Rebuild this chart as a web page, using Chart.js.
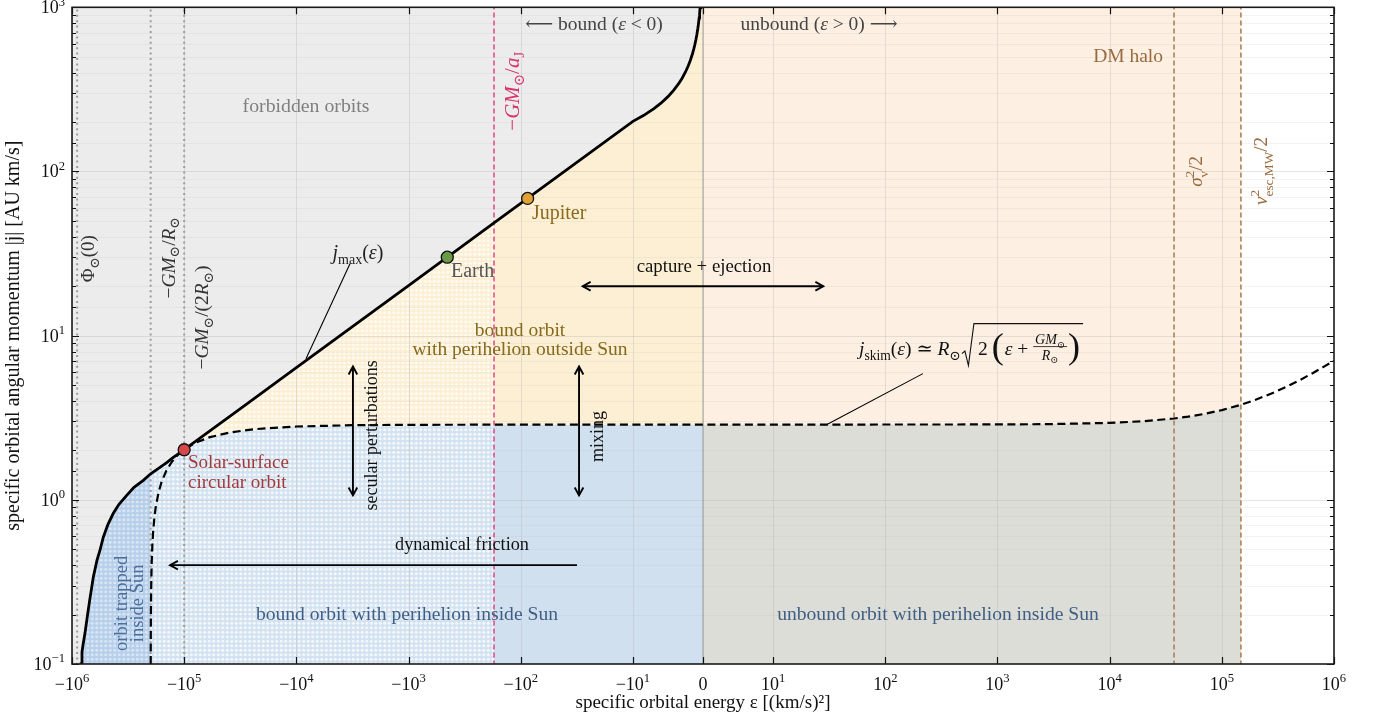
<!DOCTYPE html>
<html><head><meta charset="utf-8"><title>orbit classification</title>
<script src="https://cdn.jsdelivr.net/npm/chart.js@4.4.1/dist/chart.umd.min.js"></script>
<style>html,body{margin:0;padding:0;background:#fff;overflow:hidden}canvas{display:block}</style>
</head><body>
<canvas id="chart" width="1380" height="719"></canvas>
<script>
// ================= DATA =================
const X_TICKS = [-1e6, -1e5, -1e4, -1e3, -1e2, -1e1, 0, 1e1, 1e2, 1e3, 1e4, 1e5, 1e6];
const X_TICK_LABELS = ['−10^6', '−10^5', '−10^4', '−10^3', '−10^2', '−10^1', '0', '10^1', '10^2', '10^3', '10^4', '10^5', '10^6'];
const Y_MAJOR = [0.1, 1, 10, 100, 1000];
const Y_MAJOR_LABELS = ['10^−1', '10^0', '10^1', '10^2', '10^3'];

// j_max(eps): maximum (circular-orbit) angular momentum
const JMAX_EPS = [-8.75e5, -8.3e5, -8.145e5, -7.979e5, -7.658e5, -7.274e5, -6.91e5, -6.459e5, -5.986e5, -5.628e5, -5.26e5, -4.777e5, -4.282e5, -3.811e5, -3.253e5, -2.801e5, -2.314e5, -1.99e5, -1.643e5, -1.423e5, -1.25e5, -1.112e5, -1e5, -3e4, -1e4, -1e3, -173, -100, -10, -8.5, -7, -6, -5, -4.2, -3.5, -3, -2.5, -2.1, -1.8, -1.5, -1.3, -1.15, -1, -0.88, -0.75, -0.65, -0.55, -0.48, -0.41, -0.3];
const JMAX_J = [0.06, 0.1, 0.1183, 0.1304, 0.1543, 0.1985, 0.2519, 0.338, 0.4287, 0.4932, 0.5916, 0.7098, 0.8278, 0.9389, 1.065, 1.191, 1.314, 1.44, 1.576, 1.69, 1.813, 1.918, 2.019, 3.687, 6.385, 20.19, 48.55, 63.85, 201.9, 219.0, 241.3, 260.7, 285.6, 311.6, 341.3, 368.6, 403.8, 440.6, 475.9, 521.4, 560.0, 595.4, 638.5, 680.7, 737.3, 792.0, 861.0, 921.6, 997.2, 1165.8];

// j_skim(eps): orbits grazing the solar surface
const JSKIM_EPS = [-1.9888e5, -1.98758e5, -1.985e5, -1.98e5, -1.97e5, -1.95e5, -1.92e5, -1.89e5, -1.84e5, -1.79e5, -1.69e5, -1.59e5, -1.44e5, -1.29e5, -1.14e5, -1e5, -7.9e4, -5.9e4, -3.9e4, -2.4e4, -1e4, -3e3, -1e3, -173, 0, 1e3, 3e3, 1e4, 2e4, 3.75e4, 5e4, 7e4, 1e5, 1.48e5, 2e5, 3e5, 4e5, 5e5, 6.5e5, 8e5, 1e6];
const JSKIM_J = [0.0705, 0.1, 0.1439, 0.2035, 0.2877, 0.407, 0.538, 0.643, 0.788, 0.91, 1.114, 1.287, 1.509, 1.702, 1.876, 2.025, 2.229, 2.408, 2.574, 2.692, 2.797, 2.849, 2.863, 2.869, 2.871, 2.878, 2.892, 2.942, 3.011, 3.129, 3.211, 3.337, 3.519, 3.791, 4.065, 4.545, 4.980, 5.380, 5.929, 6.431, 7.046];

// characteristic energies (vertical reference lines)
const EPS_PHI0 = -9.0e5;    // Phi_sun(0)
const EPS_GM_R = -1.99e5;   // -GM/R
const EPS_GM_2R = -1.0e5;   // -GM/(2R)
const EPS_GM_AJ = -173;     // -GM/a_J
const EPS_ZERO = 0;
const EPS_SIGMA = 3.75e4;   // sigma_v^2/2
const EPS_VESC = 1.48e5;    // v_esc,MW^2/2

// marked orbits
const MARKER_NAMES = ['Earth', 'Jupiter', 'Solar-surface circular orbit'];
const MARKER_EPS = [-451.5, -86.8, -1e5];
const MARKER_J = [30.05, 68.53, 2.019];
const MARKER_COLORS = ['#6a9a45', '#dfa136', '#d4474b'];

// ================= STYLE / ANNOTATION CONFIG =================
const FONT = '"Liberation Serif", "DejaVu Serif", serif';
const TICK_SIZE = 18;
const LOW = 0.05, HIGH = 1300, XLEFT = -2e6;

const ARROWS = [
  {from: [-28, 20], to: [28, 20], both: true},
  {from: [-3130, 6.48], to: [-3130, 1.065], both: true},
  {from: [-30.2, 6.48], to: [-30.2, 1.065], both: true},
  {from: [-31.5, 0.4], to: [-1.337e5, 0.4], both: false}
];

const TEXTS = [
  {at: [-8.2e3, 253.6], segs: [['forbidden orbits', 'r']], color: '#7f7f7f', size: 19.8},
  {at: [-22.2, 800], segs: [['⟵ bound (', 'r'], ['ε', 'i'], [' < 0)', 'r']], color: '#444', size: 19.5},
  {at: [25.7, 800], segs: [['unbound (', 'r'], ['ε', 'i'], [' > 0) ⟶', 'r']], color: '#444', size: 19.5},
  {at: [1.46e4, 510], segs: [['DM halo', 'r']], color: '#9a6a3e', size: 19.5},
  {at: [-119.7, 308], segs: [['−', 'r'], ['GM', 'i'], ['⊙', 'b'], ['/', 'r'], ['a', 'i'], ['J', 'b']], color: '#d6336c', size: 21, rot: -90},
  {at: [-7.2e5, 29.4], segs: [['Φ', 'r'], ['⊙', 'b'], ['(0)', 'r']], color: '#333', size: 19, rot: -90},
  {at: [-1.39e5, 29.8], segs: [['−', 'r'], ['GM', 'i'], ['⊙', 'b'], ['/', 'r'], ['R', 'i'], ['⊙', 'b']], color: '#333', size: 19.5, rot: -90},
  {at: [-6.98e4, 12.9], segs: [['−', 'r'], ['GM', 'i'], ['⊙', 'b'], ['/(2', 'r'], ['R', 'i'], ['⊙', 'b'], [')', 'r']], color: '#333', size: 19.5, rot: -90},
  {at: [5.89e4, 100], segs: [['σ', 'i'], {sup: '2', sub: 'v'}, ['/2', 'r']], color: '#9a6a3e', size: 19, rot: -90},
  {at: [2.23e5, 100.7], segs: [['v', 'i'], {sup: '2', sub: 'esc,MW'}, ['/2', 'r']], color: '#9a6a3e', size: 19, rot: -90},
  {at: [-79.4, 56.0], segs: [['Jupiter', 'r']], color: '#8a6a1c', size: 20, align: 'left'},
  {at: [-418.6, 24.8], segs: [['Earth', 'r']], color: '#555', size: 20, align: 'left'},
  {at: [-2826, 32], segs: [['j', 'i'], ['max', 'b'], ['(', 'r'], ['ε', 'i'], [')', 'r']], color: '#222', size: 20},
  {at: [0.14, 26.6], segs: [['capture + ejection', 'r']], color: '#111', size: 18.8},
  {at: [-101.4, 10.9], segs: [['bound orbit', 'r']], color: '#85691c', size: 19.5},
  {at: [-101.4, 8.34], segs: [['with perihelion outside Sun', 'r']], color: '#85691c', size: 19.5},
  {at: [-2163, 2.47], segs: [['secular perturbations', 'r']], color: '#111', size: 18, rot: -90},
  {at: [-20.9, 2.43], segs: [['mixing', 'r']], color: '#111', size: 18, rot: -90},
  {at: [-9.25e4, 1.697], segs: [['Solar-surface', 'r']], color: '#a33a3a', size: 19, align: 'left'},
  {at: [-9.25e4, 1.283], segs: [['circular orbit', 'r']], color: '#a33a3a', size: 19, align: 'left'},
  {at: [-334, 0.536], segs: [['dynamical friction', 'r']], color: '#111', size: 18.2},
  {at: [-3.695e5, 0.234], segs: [['orbit trapped', 'r']], color: '#4d6d9a', size: 18.5, rot: -90},
  {at: [-2.634e5, 0.234], segs: [['inside Sun', 'r']], color: '#4d6d9a', size: 18.5, rot: -90},
  {at: [-1033, 0.204], segs: [['bound orbit with perihelion inside Sun', 'r']], color: '#3f5e85', size: 19.6},
  {at: [295, 0.204], segs: [['unbound orbit with perihelion inside Sun', 'r']], color: '#3f5e85', size: 19.6}
];
const JSKIM_LABEL_AT = [58.3, 8.34];
const LEADERS = [
  [[-3327, 27.4], [-8204, 7.24]],
  [[216.5, 5.87], [30.2, 2.88]]
];

// ================= SYMLOG SCALE =================
const LINTHRESH = 10, LINSCALE = 0.625;
function symT(v) { const a = Math.abs(v); if (a <= LINTHRESH) return v / LINTHRESH * LINSCALE; return Math.sign(v) * (LINSCALE + Math.log10(a / LINTHRESH)); }
function symInv(t) { const a = Math.abs(t); if (a <= LINSCALE) return t / LINSCALE * LINTHRESH; return Math.sign(t) * LINTHRESH * Math.pow(10, a - LINSCALE); }

class SymLogScale extends Chart.Scale {
  static id = 'symlog';
  static defaults = {};
  parse(raw) { if (raw === null || raw === undefined) return null; const v = +raw; return isFinite(v) ? v : null; }
  determineDataLimits() { this.min = this.options.min; this.max = this.options.max; }
  buildTicks() { return X_TICKS.map(v => ({value: v, major: true})); }
  configure() { super.configure(); this._t0 = symT(this.min); this._t1 = symT(this.max); }
  getPixelForValue(v) { return this.getPixelForDecimal((symT(v) - this._t0) / (this._t1 - this._t0)); }
  getValueForPixel(p) { return symInv(this._t0 + this.getDecimalForPixel(p) * (this._t1 - this._t0)); }
  getPixelForTick(i) { return this.getPixelForValue(this.ticks[i].value); }
  getLabelForValue(v) { return String(v); }
}
Chart.register(SymLogScale);

// ================= HELPERS =================
function pts(eArr, jArr, lo, hi) { const out = []; for (let i = 0; i < eArr.length; i++) if (eArr[i] >= lo && eArr[i] <= hi) out.push({x: eArr[i], y: jArr[i]}); return out; }
const JM = (lo, hi) => pts(JMAX_EPS, JMAX_J, lo, hi);
const JS = (lo, hi) => pts(JSKIM_EPS, JSKIM_J, lo, hi);

function dotPattern(bg, dot) {
  const c = document.createElement('canvas'); c.width = 9; c.height = 9;
  const g = c.getContext('2d');
  g.fillStyle = bg; g.fillRect(0, 0, 9, 9);
  g.fillStyle = dot;
  for (const [cx, cy] of [[2.25, 2.25], [6.75, 2.25], [2.25, 6.75], [6.75, 6.75]]) { g.beginPath(); g.arc(cx, cy, 1.55, 0, 2 * Math.PI); g.fill(); }
  return g.createPattern(c, 'repeat');
}

function fontStr(size, italic) { return (italic ? 'italic ' : '') + size.toFixed(1) + 'px ' + FONT; }
function segWidth(ctx, seg, size) {
  if (!Array.isArray(seg)) { ctx.font = fontStr(size * 0.7, false); return Math.max(ctx.measureText(seg.sup).width, ctx.measureText(seg.sub).width); }
  const [t, st] = seg; const small = st === 'b' || st === 'p';
  ctx.font = fontStr(small ? size * 0.7 : size, st === 'i'); return ctx.measureText(t).width;
}
function drawSegs(ctx, segs, x, y, size) {
  const base = y + size * 0.33;
  for (const seg of segs) {
    const w = segWidth(ctx, seg, size);
    if (!Array.isArray(seg)) {
      ctx.font = fontStr(size * 0.7, false);
      ctx.fillText(seg.sup, x, base - size * 0.42);
      ctx.fillText(seg.sub, x, base + size * 0.3);
    } else {
      const st = seg[1]; let yy = base;
      if (st === 'b') yy = base + size * 0.25;
      if (st === 'p') yy = base - size * 0.4;
      ctx.fillText(seg[0], x, yy);
    }
    x += w;
  }
  return x;
}
function segsWidth(ctx, segs, size) { return segs.reduce((s, g) => s + segWidth(ctx, g, size), 0); }
function drawRich(ctx, t, px, py) {
  ctx.save(); ctx.translate(px, py); if (t.rot) ctx.rotate(t.rot * Math.PI / 180);
  ctx.fillStyle = t.color; ctx.textAlign = 'left'; ctx.textBaseline = 'alphabetic';
  const W = segsWidth(ctx, t.segs, t.size);
  const x0 = t.align === 'left' ? 0 : (t.align === 'right' ? -W : -W / 2);
  drawSegs(ctx, t.segs, x0, 0, t.size);
  ctx.restore();
}
function drawJskim(ctx, px, py, size, color) {
  ctx.save(); ctx.fillStyle = color; ctx.strokeStyle = color; ctx.textAlign = 'left'; ctx.textBaseline = 'alphabetic';
  let x = drawSegs(ctx, [['j', 'i'], ['skim', 'b'], ['(', 'r'], ['ε', 'i'], [')', 'r'], [' ≃ ', 'r'], ['R', 'i'], ['⊙', 'b']], px, py, size);
  const rx = x + 1, top = py - 25, bot = py + 17;
  let cx = rx + 16;
  cx = drawSegs(ctx, [['2', 'r']], cx, py, size) + 4;
  ctx.font = fontStr(size * 1.85, false); ctx.textBaseline = 'middle';
  ctx.fillText('(', cx, py); cx += ctx.measureText('(').width + 1;
  ctx.textBaseline = 'alphabetic';
  cx = drawSegs(ctx, [['ε', 'i'], [' + ', 'r']], cx, py, size);
  const fs = size * 0.72;
  const num = [['GM', 'i'], ['⊙', 'b']], den = [['R', 'i'], ['⊙', 'b']];
  const nw = segsWidth(ctx, num, fs), dw = segsWidth(ctx, den, fs), fw = Math.max(nw, dw) + 4;
  drawSegs(ctx, num, cx + (fw - nw) / 2, py - 9, fs);
  drawSegs(ctx, den, cx + (fw - dw) / 2, py + 6.5, fs);
  ctx.lineWidth = 0.8; ctx.beginPath(); ctx.moveTo(cx, py - 2); ctx.lineTo(cx + fw, py - 2); ctx.stroke();
  cx += fw + 1;
  ctx.font = fontStr(size * 1.85, false); ctx.textBaseline = 'middle';
  ctx.fillText(')', cx, py); cx += ctx.measureText(')').width;
  ctx.lineWidth = 1.1; ctx.lineJoin = 'miter';
  ctx.beginPath(); ctx.moveTo(rx, py + 5); ctx.lineTo(rx + 3, py + 2.5); ctx.lineTo(rx + 6.5, bot); ctx.lineTo(rx + 12, top); ctx.lineTo(cx + 3, top); ctx.stroke();
  ctx.restore();
}
function drawPowLabel(ctx, label, x, y, align) {
  const parts = label.split('^'); const b = parts[0], e = parts[1];
  ctx.font = fontStr(TICK_SIZE, false); const wb = ctx.measureText(b).width;
  let we = 0; if (e) { ctx.font = fontStr(TICK_SIZE * 0.7, false); we = ctx.measureText(e).width; }
  const W = wb + we; const x0 = align === 'center' ? x - W / 2 : x - W;
  const base = y + TICK_SIZE * 0.33;
  ctx.font = fontStr(TICK_SIZE, false); ctx.fillText(b, x0, base);
  if (e) { ctx.font = fontStr(TICK_SIZE * 0.7, false); ctx.fillText(e, x0 + wb, base - TICK_SIZE * 0.42); }
}
function chevron(ctx, x, y, a) {
  const L = 9, ang = 0.5;
  ctx.beginPath(); ctx.moveTo(x - L * Math.cos(a - ang), y - L * Math.sin(a - ang)); ctx.lineTo(x, y); ctx.lineTo(x - L * Math.cos(a + ang), y - L * Math.sin(a + ang)); ctx.stroke();
}

// ================= DATASETS =================
const PAT_TRAPPED = dotPattern('#b6cfeb', 'rgba(255,255,255,0.45)');
const PAT_BLUE = dotPattern('#d3e2f0', 'rgba(255,255,255,0.72)');
const PAT_YELLOW = dotPattern('#fdefd3', 'rgba(255,255,255,0.72)');

function fillDs(data, color) { return {data, fill: 'shape', backgroundColor: color, borderWidth: 0, borderColor: 'rgba(0,0,0,0)', pointRadius: 0, tension: 0, order: 100, _isFill: true}; }
function vline(e, color, width, dash) { return {data: [{x: e, y: LOW}, {x: e, y: HIGH}], borderColor: color, borderWidth: width, borderDash: dash, pointRadius: 0, fill: false, order: 50}; }

const datasets = [
  fillDs([{x: XLEFT, y: LOW}, {x: XLEFT, y: HIGH}, {x: 0, y: HIGH}, ...JM(-1e7, 0).reverse()], '#ececec'),
  fillDs([...JM(-1e7, EPS_GM_R), {x: EPS_GM_R, y: LOW}], PAT_TRAPPED),
  fillDs([{x: EPS_GM_R, y: LOW}, ...JM(EPS_GM_R, -1e5), ...JS(-1e5, EPS_GM_AJ), {x: EPS_GM_AJ, y: LOW}], PAT_BLUE),
  fillDs([...JM(-1e5, EPS_GM_AJ), ...JS(-1e5, EPS_GM_AJ).reverse()], PAT_YELLOW),
  fillDs([...JM(EPS_GM_AJ, 0), {x: 0, y: HIGH}, ...JS(EPS_GM_AJ, 0).reverse()], '#fdefd3'),
  fillDs([{x: EPS_GM_AJ, y: LOW}, ...JS(EPS_GM_AJ, 0), {x: 0, y: LOW}], '#d0e0ee'),
  fillDs([{x: 0, y: LOW}, ...JS(0, EPS_VESC), {x: EPS_VESC, y: LOW}], '#dcddd7'),
  fillDs([...JS(0, EPS_VESC), {x: EPS_VESC, y: HIGH}, {x: 0, y: HIGH}], '#fdf0e3'),
  vline(EPS_PHI0, '#9c9c9c', 2, [2, 3.4]),
  vline(EPS_GM_R, '#9c9c9c', 2, [2, 3.4]),
  vline(EPS_GM_2R, '#9c9c9c', 2, [2, 3.4]),
  vline(EPS_GM_AJ, '#dd3b7e', 1.4, [5, 3]),
  vline(EPS_ZERO, 'rgba(150,150,150,0.6)', 1.5, []),
  vline(EPS_SIGMA, '#a87b50', 1.5, [5, 3]),
  vline(EPS_VESC, '#a87b50', 1.5, [5, 3]),
  {data: JM(-1e7, 1), borderColor: '#000', borderWidth: 2.8, pointRadius: 0, fill: false, tension: 0, order: 40},
  {data: JS(-1e7, 1e7), borderColor: '#000', borderWidth: 2.2, borderDash: [8, 4.5], pointRadius: 0, fill: false, tension: 0, order: 40},
  ...LEADERS.map(l => ({data: [{x: l[0][0], y: l[0][1]}, {x: l[1][0], y: l[1][1]}], borderColor: '#000', borderWidth: 1.1, pointRadius: 0, fill: false, order: 45})),
  ...MARKER_NAMES.map((n, i) => ({label: n, data: [{x: MARKER_EPS[i], y: MARKER_J[i]}], showLine: false, pointRadius: 6, pointBackgroundColor: MARKER_COLORS[i], pointBorderColor: '#111', pointBorderWidth: 1.3, order: 10}))
];

// ================= OVERLAY PLUGIN =================
let gridDrawn = false;
function drawGrid(chart) {
  const {ctx, chartArea: a, scales: {x, y}} = chart;
  ctx.save(); ctx.beginPath(); ctx.rect(a.left, a.top, a.right - a.left, a.bottom - a.top); ctx.clip();
  ctx.lineWidth = 1;
  for (const t of x.ticks) { const px = Math.round(x.getPixelForValue(t.value)) + 0.5; ctx.strokeStyle = 'rgba(180,180,180,0.35)'; ctx.beginPath(); ctx.moveTo(px, a.top); ctx.lineTo(px, a.bottom); ctx.stroke(); }
  for (const t of y.ticks) {
    const major = Math.abs(Math.log10(t.value) - Math.round(Math.log10(t.value))) < 1e-6;
    const py = Math.round(y.getPixelForValue(t.value)) + 0.5;
    ctx.strokeStyle = major ? 'rgba(180,180,180,0.35)' : 'rgba(190,190,190,0.18)';
    ctx.beginPath(); ctx.moveTo(a.left, py); ctx.lineTo(a.right, py); ctx.stroke();
  }
  ctx.restore();
}
const overlay = {
  id: 'overlay',
  beforeDatasetsDraw() { gridDrawn = false; },
  beforeDatasetDraw(chart, args) {
    const ds = chart.data.datasets[args.index];
    if (!ds._isFill && !gridDrawn) { drawGrid(chart); gridDrawn = true; }
  },
  afterDatasetsDraw(chart) {
    const {ctx, scales: {x, y}} = chart;
    const P = (d) => [x.getPixelForValue(d[0]), y.getPixelForValue(d[1])];
    ctx.save();
    ctx.strokeStyle = '#000'; ctx.lineWidth = 1.9; ctx.lineJoin = 'miter'; ctx.lineCap = 'butt';
    for (const ar of ARROWS) {
      const [x1, y1] = P(ar.from), [x2, y2] = P(ar.to);
      ctx.beginPath(); ctx.moveTo(x1, y1); ctx.lineTo(x2, y2); ctx.stroke();
      const a = Math.atan2(y2 - y1, x2 - x1);
      chevron(ctx, x2, y2, a); if (ar.both) chevron(ctx, x1, y1, a + Math.PI);
    }
    ctx.restore();
    for (const t of TEXTS) { const [px, py] = P(t.at); drawRich(ctx, t, px, py); }
    const [jx, jy] = P(JSKIM_LABEL_AT);
    drawJskim(ctx, jx, jy, 19.5, '#111');
  },
  afterDraw(chart) {
    const {ctx, chartArea: a, scales: {x, y}} = chart;
    ctx.save();
    ctx.strokeStyle = '#111'; ctx.lineWidth = 1.2;
    for (const t of x.ticks) {
      const px = Math.round(x.getPixelForValue(t.value)) + 0.5;
      ctx.beginPath(); ctx.moveTo(px, a.bottom); ctx.lineTo(px, a.bottom - 7); ctx.moveTo(px, a.top); ctx.lineTo(px, a.top + 7); ctx.stroke();
    }
    for (const t of y.ticks) {
      const major = Math.abs(Math.log10(t.value) - Math.round(Math.log10(t.value))) < 1e-6;
      const L = major ? 7 : 4;
      const py = Math.round(y.getPixelForValue(t.value)) + 0.5;
      ctx.beginPath(); ctx.moveTo(a.left, py); ctx.lineTo(a.left + L, py); ctx.moveTo(a.right, py); ctx.lineTo(a.right - L, py); ctx.stroke();
    }
    ctx.strokeStyle = '#1a1a1a'; ctx.lineWidth = 1.6;
    ctx.strokeRect(a.left, a.top, a.right - a.left, a.bottom - a.top);
    ctx.fillStyle = '#111'; ctx.textAlign = 'left'; ctx.textBaseline = 'alphabetic';
    X_TICKS.forEach((v, i) => drawPowLabel(ctx, X_TICK_LABELS[i], x.getPixelForValue(v), a.bottom + 20, 'center'));
    Y_MAJOR.forEach((v, i) => drawPowLabel(ctx, Y_MAJOR_LABELS[i], a.left - 7, y.getPixelForValue(v), 'right'));
    ctx.restore();
  }
};

new Chart(document.getElementById('chart').getContext('2d'), {
  type: 'line',
  data: {datasets},
  options: {
    responsive: false, animation: false, devicePixelRatio: 1, events: [],
    layout: {padding: {top: 6, right: 46, left: 0, bottom: 0}},
    plugins: {legend: {display: false}, tooltip: {enabled: false}},
    elements: {line: {tension: 0}},
    scales: {
      x: {type: 'symlog', position: 'bottom', min: -1e6, max: 1e6,
        grid: {display: false}, border: {display: false}, ticks: {display: false},
        title: {display: true, text: 'specific orbital energy ε [(km/s)²]', color: '#111', font: {family: FONT, size: 19, lineHeight: 1.2}, padding: {top: 0, bottom: 4.6}},
        afterFit(s) { s.height = 55; }},
      y: {type: 'logarithmic', position: 'left', min: 0.1, max: 1000,
        grid: {display: false}, border: {display: false}, ticks: {display: false},
        title: {display: true, text: 'specific orbital angular momentum |j| [AU km/s]', color: '#111', font: {family: FONT, size: 20, lineHeight: 1.2}, padding: {top: 2, bottom: 0}},
        afterFit(s) { s.width = 72; }}
    }
  },
  plugins: [overlay]
});
</script>
</body></html>
